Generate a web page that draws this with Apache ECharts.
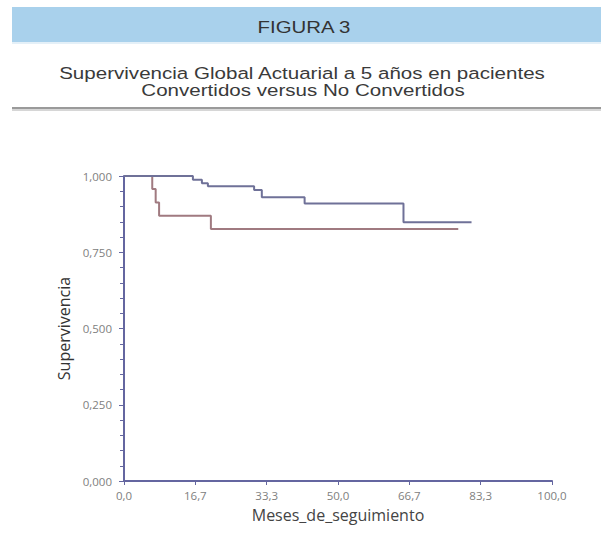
<!DOCTYPE html>
<html>
<head>
<meta charset="utf-8">
<script src="https://cdn.jsdelivr.net/npm/echarts@6/dist/echarts.min.js"></script>
<style>
  html, body { margin: 0; padding: 0; background: #ffffff; }
  #chart { width: 601px; height: 554px; }
</style>
</head>
<body>
<div id="chart"></div>
<script>
// datos
const mesesConvertidos = [0, 16.1, 18.2, 19.6, 30.4, 32.2, 42.2, 65.3, 81.2];
const supConvertidos = [1, 0.988, 0.976, 0.966, 0.954, 0.930, 0.910, 0.848, 0.848];
const mesesNoConvertidos = [0, 6.6, 7.4, 8.2, 20.3, 78.1];
const supNoConvertidos = [1, 0.957, 0.913, 0.870, 0.826, 0.826];
const xTicks = [0, 16.7, 33.3, 50.0, 66.7, 83.3, 100.0];
const yTicks = [0, 0.25, 0.5, 0.75, 1];

const toPairs = (xs, ys) => xs.map((x, i) => [x, ys[i]]);
const coma = (v, d) => v.toFixed(d).replace('.', ',');
const masCercano = (arr, v) => arr.reduce((a, b) => Math.abs(b - v) < Math.abs(a - v) ? b : a);

const myChart = echarts.init(document.getElementById('chart'), null, { renderer: 'svg' });

const fuenteCab = '17px Liberation Sans, Arial, sans-serif';

const option = {
  backgroundColor: '#ffffff',
  animation: false,
  textStyle: { fontFamily: 'Open Sans, sans-serif' },
  graphic: [
    // franja azul del encabezado
    { type: 'rect', shape: { x: 12, y: 7, width: 589, height: 35 }, style: { fill: '#a9d1ec' }, silent: true },
    { type: 'rect', shape: { x: 12, y: 42, width: 589, height: 2 }, style: { fill: '#e4f0f8' }, silent: true },
    // línea separadora
    { type: 'rect', shape: { x: 12, y: 107, width: 589, height: 2 }, style: { fill: '#9a9a9a' }, silent: true },
    { type: 'rect', shape: { x: 12, y: 109, width: 589, height: 2 }, style: { fill: '#d6d6d6' }, silent: true },
    {
      type: 'text', x: 304, y: 27, scaleX: 1.2,
      style: { text: 'FIGURA 3', fill: '#333333', font: fuenteCab, textAlign: 'center', textVerticalAlign: 'middle' }
    },
    {
      type: 'text', x: 302, y: 73, scaleX: 1.21,
      style: { text: 'Supervivencia Global Actuarial a 5 años en pacientes', fill: '#3a3a3a', font: fuenteCab, textAlign: 'center', textVerticalAlign: 'middle' }
    },
    {
      type: 'text', x: 303, y: 90, scaleX: 1.21,
      style: { text: 'Convertidos versus No Convertidos', fill: '#3a3a3a', font: fuenteCab, textAlign: 'center', textVerticalAlign: 'middle' }
    }
  ],
  grid: {
    left: 124,
    right: 49,
    top: 176,
    bottom: 73
  },
  xAxis: {
    type: 'value',
    min: 0,
    max: 100,
    interval: 100 / 6,
    name: 'Meses_de_seguimiento',
    nameLocation: 'middle',
    nameGap: 26,
    nameTextStyle: { color: '#444444', fontSize: 16 },
    axisLine: { show: true, onZero: false, lineStyle: { color: '#6466a0', width: 2 } },
    axisTick: { show: true, length: 4, lineStyle: { color: '#6466a0' } },
    axisLabel: {
      color: '#808080', fontSize: 11.5, margin: 8,
      formatter: v => coma(masCercano(xTicks, v), 1)
    },
    splitLine: { show: false }
  },
  yAxis: {
    type: 'value',
    min: 0,
    max: 1,
    interval: 0.25,
    name: 'Supervivencia',
    nameLocation: 'middle',
    nameGap: 50,
    nameTextStyle: { color: '#333333', fontSize: 16 },
    axisLine: { show: true, onZero: false, lineStyle: { color: '#6466a0', width: 2 } },
    axisTick: { show: true, length: 5, lineStyle: { color: '#6466a0' } },
    minorTick: { show: true, splitNumber: 5, length: 4, lineStyle: { color: '#6466a0' } },
    axisLabel: {
      color: '#808080', fontSize: 11.5, margin: 12,
      formatter: v => coma(masCercano(yTicks, v), 3)
    },
    splitLine: { show: false }
  },
  series: [
    {
      name: 'Convertidos',
      type: 'line',
      step: 'end',
      symbol: 'none',
      data: toPairs(mesesConvertidos, supConvertidos),
      lineStyle: { color: '#6f7198', width: 2 },
      z: 3
    },
    {
      name: 'No Convertidos',
      type: 'line',
      step: 'end',
      symbol: 'none',
      data: toPairs(mesesNoConvertidos, supNoConvertidos),
      lineStyle: { color: '#a07a80', width: 2 },
      z: 2
    }
  ]
};

myChart.setOption(option);
window.addEventListener('resize', () => myChart.resize());
</script>
</body>
</html>
